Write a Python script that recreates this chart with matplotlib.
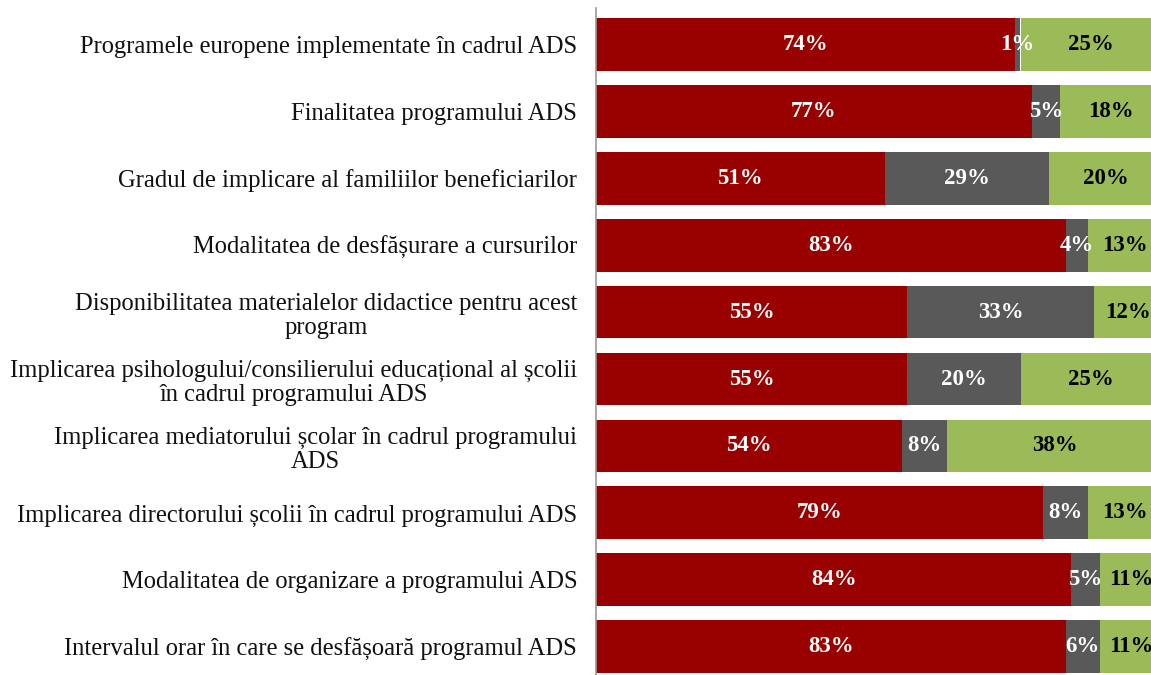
"""
Stacked 100% horizontal bars: assessment of the ADS programme aspects.
"""

import matplotlib.pyplot as plt
import numpy as np

categories = [
    "Programele europene implementate în cadrul ADS",
    "Finalitatea programului ADS",
    "Gradul de implicare al familiilor beneficiarilor",
    "Modalitatea de desfășurare a cursurilor",
    "Disponibilitatea materialelor didactice pentru acest\nprogram",
    "Implicarea psihologului/consilierului educațional al școlii\nîn cadrul programului ADS",
    "Implicarea mediatorului școlar în cadrul programului\nADS",
    "Implicarea directorului școlii în cadrul programului ADS",
    "Modalitatea de organizare a programului ADS",
    "Intervalul orar în care se desfășoară programul ADS",
]
red_vals = [74, 77, 51, 83, 55, 55, 54, 79, 84, 83]
gray_vals = [1, 5, 29, 4, 33, 20, 8, 8, 5, 6]
green_vals = [25, 18, 20, 13, 12, 25, 38, 13, 11, 11]

series = [
    (red_vals, "#990000", "white"),
    (gray_vals, "#595959", "white"),
    (green_vals, "#9BBB59", "black"),
]


def main():
    plt.rcParams['font.family'] = ['Liberation Serif', 'DejaVu Serif']
    fig = plt.figure(figsize=(11.51, 6.75), dpi=100)
    # the 100% end sits just past the right edge of the picture
    ax = fig.add_axes([596 / 1151, 0.0, 566 / 1151, 1 - 8 / 675])

    y = np.arange(len(categories))
    left = np.zeros(len(categories))
    for vals, color, txt_color in series:
        vals = np.array(vals, dtype=float)
        bars = ax.barh(y, vals, left=left, height=0.79, color=color,
                       edgecolor='none')
        ax.bar_label(bars, labels=[f"{v:.0f}%" for v in vals],
                     label_type='center', color=txt_color, fontsize=16.5,
                     fontweight='bold')
        left += vals

    ax.set_xlim(0, 100)
    ax.set_ylim(9.42, -0.54)
    ax.set_yticks(y)
    ax.set_yticklabels(categories, fontsize=17.7, multialignment='center',
                       color='#111111', linespacing=1.12)
    ax.tick_params(axis='y', length=0, pad=13.5)
    ax.set_xticks([])
    for side in ['top', 'right', 'bottom']:
        ax.spines[side].set_visible(False)
    ax.spines['left'].set_color('#999999')
    ax.spines['left'].set_linewidth(1.2)

    fig.savefig("out.png", dpi=100)
    plt.close(fig)


if __name__ == "__main__":
    main()
